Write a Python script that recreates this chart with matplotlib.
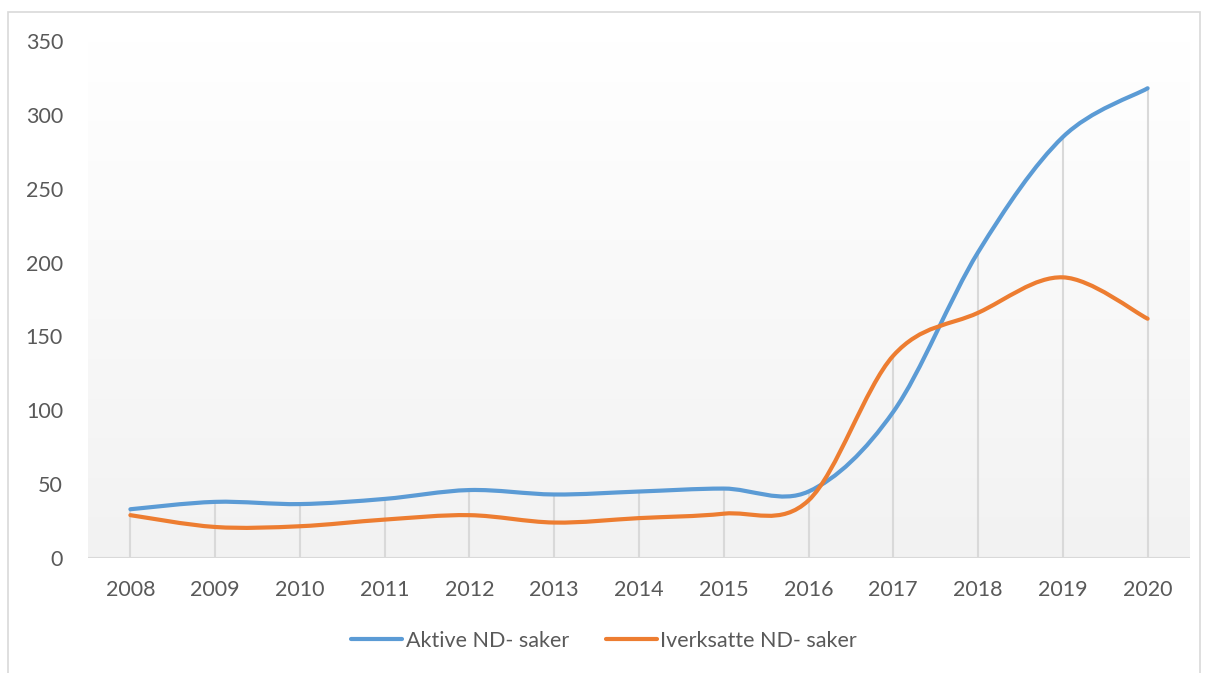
import numpy as np
import matplotlib.pyplot as plt
from matplotlib.path import Path
from matplotlib.patches import PathPatch, Rectangle
from matplotlib.lines import Line2D

years = ["2008", "2009", "2010", "2011", "2012", "2013", "2014",
         "2015", "2016", "2017", "2018", "2019", "2020"]
aktive = [33, 38, 36.5, 40, 46, 43, 45, 47, 45, 99, 207, 285, 318]
iverksatte = [29, 21, 21.5, 26, 29, 24, 27, 30, 39, 137, 166, 190, 162]

blue = "#5b9bd5"
orange = "#ed7d31"
grey_txt = "#595959"
grey_line = "#d9d9d9"


def smooth_path(xs, ys):
    # bezier segments through the points, like a spreadsheet "smoothed line"
    pts = np.column_stack([xs, ys]).astype(float)
    n = len(pts)
    verts = [pts[0]]
    codes = [Path.MOVETO]
    for i in range(n - 1):
        p0 = pts[max(i - 1, 0)]
        p1 = pts[i]
        p2 = pts[i + 1]
        p3 = pts[min(i + 2, n - 1)]
        c1 = p1 + (p2 - p0) / 6.0
        c2 = p2 - (p3 - p1) / 6.0
        verts += [c1, c2, p2]
        codes += [Path.CURVE4] * 3
    return Path(verts, codes)


plt.rcParams['font.family'] = ['Lato', 'DejaVu Sans']

fig = plt.figure(figsize=(12.08, 6.73), dpi=100)
fig.patches.append(Rectangle((8 / 1208, -0.05), 1192 / 1208, 1.05 - 12 / 673,
                             transform=fig.transFigure, fill=False,
                             edgecolor="#d9d9d9", linewidth=1.2))

ax = fig.add_axes([88 / 1208, 1 - 558 / 673, (1190 - 88) / 1208, (558 - 41) / 673])
x = np.arange(len(years))
ax.set_xlim(-0.5, len(years) - 0.5)
ax.set_ylim(0, 350)

# soft grey gradient behind the plot
grad = np.linspace(0, 1, 256).reshape(-1, 1)
ax.imshow(grad, extent=[-0.5, len(years) - 0.5, 0, 350], origin="upper",
          aspect="auto", cmap=plt.matplotlib.colors.LinearSegmentedColormap.from_list(
              "bg", ["#ffffff", "#f2f2f2"]), zorder=0)

# drop lines up to the higher of the two series
tops = np.maximum(aktive, iverksatte)
ax.vlines(x, 0, tops, colors=grey_line, linewidth=1.5, zorder=1)
ax.axhline(0, color=grey_line, linewidth=1.5, zorder=1)

for vals, col in [(aktive, blue), (iverksatte, orange)]:
    ax.add_patch(PathPatch(smooth_path(x, vals), facecolor="none", edgecolor=col,
                           linewidth=3, capstyle="round", zorder=3))

for s in ax.spines.values():
    s.set_visible(False)
ax.set_xticks(x)
ax.set_xticklabels(years)
ax.set_yticks(range(0, 351, 50))
ax.tick_params(length=0, labelsize=15.5, colors=grey_txt)
ax.tick_params(axis="x", pad=16)
ax.tick_params(axis="y", pad=18)

handles = [Line2D([], [], color=blue, linewidth=3, solid_capstyle="round"),
           Line2D([], [], color=orange, linewidth=3, solid_capstyle="round")]
leg = fig.legend(handles, ["Aktive ND- saker", "Iverksatte ND- saker"],
                 loc="center", bbox_to_anchor=(0.5, 1 - 641 / 673), ncol=2,
                 frameon=False, fontsize=15.5, handlelength=2.4, handletextpad=0.15,
                 columnspacing=1.7)
for t in leg.get_texts():
    t.set_color(grey_txt)

fig.savefig("out.png", dpi=100)
